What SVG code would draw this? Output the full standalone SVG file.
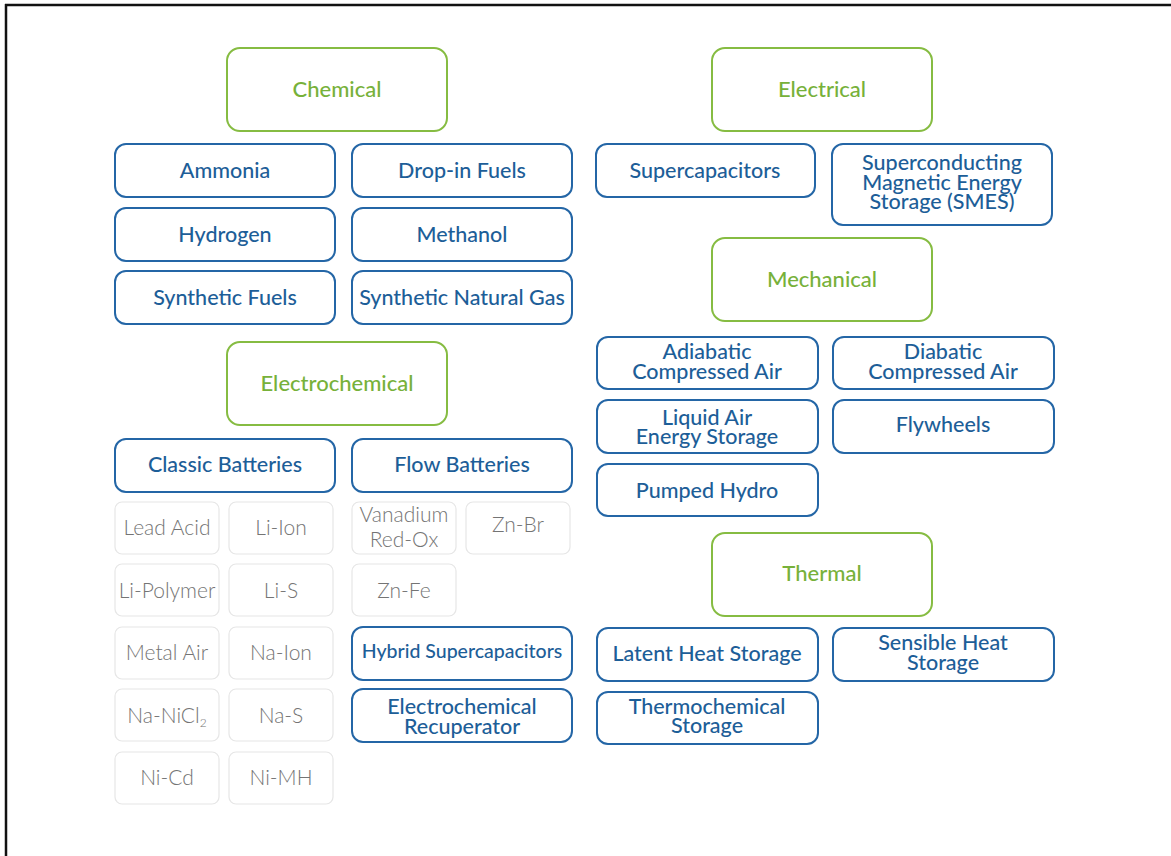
<svg xmlns="http://www.w3.org/2000/svg" width="1171" height="856" viewBox="0 0 1171 856">
  <style>
    text { font-family: "Lato", "Open Sans", "Liberation Sans", sans-serif; text-anchor: middle; }
    .cat rect { fill: #ffffff; stroke: #86bc42; stroke-width: 2; }
    .cat text { fill: #77b13a; font-size: 22px; font-weight: 500; }
    .tech rect { fill: #ffffff; stroke: #2466a6; stroke-width: 2; }
    .tech text { fill: #1d5e98; font-size: 21.5px; font-weight: 500; }
    .tech text.snug { font-size: 19.5px; }
    .sub rect { fill: #ffffff; stroke: #e6e6e6; stroke-width: 1.2; }
    .sub text { fill: #747474; font-size: 21px; font-weight: 300; }
  </style>

  <rect x="0" y="0" width="1171" height="856" fill="#ffffff"/>
  <!-- frame edges -->
  <line x1="5" y1="5" x2="1171" y2="5" stroke="#111111" stroke-width="2.5"/>
  <line x1="6" y1="4" x2="6" y2="856" stroke="#111111" stroke-width="2.5"/>

  <!-- no connectors in this chart -->
  <g id="connectors"/>

  <!-- category headers -->
  <g id="chemical" class="cat"><rect x="227" y="48" width="220" height="83" rx="13"/><text x="337" y="97">Chemical</text></g>
  <g id="electrical" class="cat"><rect x="712" y="48" width="220" height="83" rx="13"/><text x="822" y="97">Electrical</text></g>
  <g id="electrochemical" class="cat"><rect x="227" y="342" width="220" height="83" rx="13"/><text x="337" y="391">Electrochemical</text></g>
  <g id="mechanical" class="cat"><rect x="712" y="238" width="220" height="83" rx="13"/><text x="822" y="287">Mechanical</text></g>
  <g id="thermal" class="cat"><rect x="712" y="533" width="220" height="83" rx="13"/><text x="822" y="581">Thermal</text></g>

  <!-- chemical technologies -->
  <g id="ammonia" class="tech"><rect x="115" y="144" width="220" height="53" rx="11"/><text x="225" y="178">Ammonia</text></g>
  <g id="drop-in-fuels" class="tech"><rect x="352" y="144" width="220" height="53" rx="11"/><text x="462" y="178">Drop-in Fuels</text></g>
  <g id="hydrogen" class="tech"><rect x="115" y="208" width="220" height="53" rx="11"/><text x="225" y="242">Hydrogen</text></g>
  <g id="methanol" class="tech"><rect x="352" y="208" width="220" height="53" rx="11"/><text x="462" y="242">Methanol</text></g>
  <g id="synthetic-fuels" class="tech"><rect x="115" y="271" width="220" height="53" rx="11"/><text x="225" y="305">Synthetic Fuels</text></g>
  <g id="synthetic-natural-gas" class="tech"><rect x="352" y="271" width="220" height="53" rx="11"/><text x="462" y="305">Synthetic Natural Gas</text></g>

  <!-- electrical technologies -->
  <g id="supercapacitors" class="tech"><rect x="596" y="144" width="219" height="53" rx="11"/><text x="705" y="178">Supercapacitors</text></g>
  <g id="smes" class="tech"><rect x="832" y="144" width="220" height="81" rx="11"/><text x="942" y="170">Superconducting</text><text x="942" y="190">Magnetic Energy</text><text x="942" y="209">Storage (SMES)</text></g>

  <!-- electrochemical technologies -->
  <g id="classic-batteries" class="tech"><rect x="115" y="439" width="220" height="53" rx="11"/><text x="225" y="472">Classic Batteries</text></g>
  <g id="flow-batteries" class="tech"><rect x="352" y="439" width="220" height="53" rx="11"/><text x="462" y="472">Flow Batteries</text></g>
  <g id="hybrid-supercapacitors" class="tech"><rect x="352" y="627" width="220" height="53" rx="11"/><text class="snug" x="462" y="658">Hybrid Supercapacitors</text></g>
  <g id="electrochemical-recuperator" class="tech"><rect x="352" y="689" width="220" height="53" rx="11"/><text x="462" y="714">Electrochemical</text><text x="462" y="734">Recuperator</text></g>

  <!-- battery chemistries -->
  <g id="lead-acid" class="sub"><rect x="115" y="502" width="104" height="52" rx="7"/><text x="167" y="535">Lead Acid</text></g>
  <g id="li-ion" class="sub"><rect x="229" y="502" width="104" height="52" rx="7"/><text x="281" y="535">Li-Ion</text></g>
  <g id="vanadium-red-ox" class="sub"><rect x="352" y="502" width="104" height="52" rx="7"/><text x="404" y="522">Vanadium</text><text x="404" y="547">Red-Ox</text></g>
  <g id="zn-br" class="sub"><rect x="466" y="502" width="104" height="52" rx="7"/><text x="518" y="532">Zn-Br</text></g>
  <g id="li-polymer" class="sub"><rect x="115" y="564" width="104" height="52" rx="7"/><text x="167" y="598">Li-Polymer</text></g>
  <g id="li-s" class="sub"><rect x="229" y="564" width="104" height="52" rx="7"/><text x="281" y="598">Li-S</text></g>
  <g id="zn-fe" class="sub"><rect x="352" y="564" width="104" height="52" rx="7"/><text x="404" y="598">Zn-Fe</text></g>
  <g id="metal-air" class="sub"><rect x="115" y="627" width="104" height="52" rx="7"/><text x="167" y="660">Metal Air</text></g>
  <g id="na-ion" class="sub"><rect x="229" y="627" width="104" height="52" rx="7"/><text x="281" y="660">Na-Ion</text></g>
  <g id="na-nicl2" class="sub"><rect x="115" y="689" width="104" height="52" rx="7"/><text x="167" y="723">Na-NiCl<tspan font-size="12" dy="4">2</tspan></text></g>
  <g id="na-s" class="sub"><rect x="229" y="689" width="104" height="52" rx="7"/><text x="281" y="723">Na-S</text></g>
  <g id="ni-cd" class="sub"><rect x="115" y="752" width="104" height="52" rx="7"/><text x="167" y="785">Ni-Cd</text></g>
  <g id="ni-mh" class="sub"><rect x="229" y="752" width="104" height="52" rx="7"/><text x="281" y="785">Ni-MH</text></g>

  <!-- mechanical technologies -->
  <g id="adiabatic-compressed-air" class="tech"><rect x="597" y="337" width="221" height="52" rx="11"/><text x="707" y="359">Adiabatic</text><text x="707" y="379">Compressed Air</text></g>
  <g id="diabatic-compressed-air" class="tech"><rect x="833" y="337" width="221" height="52" rx="11"/><text x="943" y="359">Diabatic</text><text x="943" y="379">Compressed Air</text></g>
  <g id="liquid-air-energy-storage" class="tech"><rect x="597" y="400" width="221" height="53" rx="11"/><text x="707" y="425">Liquid Air</text><text x="707" y="444">Energy Storage</text></g>
  <g id="flywheels" class="tech"><rect x="833" y="400" width="221" height="53" rx="11"/><text x="943" y="432">Flywheels</text></g>
  <g id="pumped-hydro" class="tech"><rect x="597" y="464" width="221" height="52" rx="11"/><text x="707" y="498">Pumped Hydro</text></g>

  <!-- thermal technologies -->
  <g id="latent-heat-storage" class="tech"><rect x="597" y="628" width="221" height="53" rx="11"/><text x="707" y="661">Latent Heat Storage</text></g>
  <g id="sensible-heat-storage" class="tech"><rect x="833" y="628" width="221" height="53" rx="11"/><text x="943" y="650">Sensible Heat</text><text x="943" y="670">Storage</text></g>
  <g id="thermochemical-storage" class="tech"><rect x="597" y="692" width="221" height="52" rx="11"/><text x="707" y="714">Thermochemical</text><text x="707" y="733">Storage</text></g>
</svg>
